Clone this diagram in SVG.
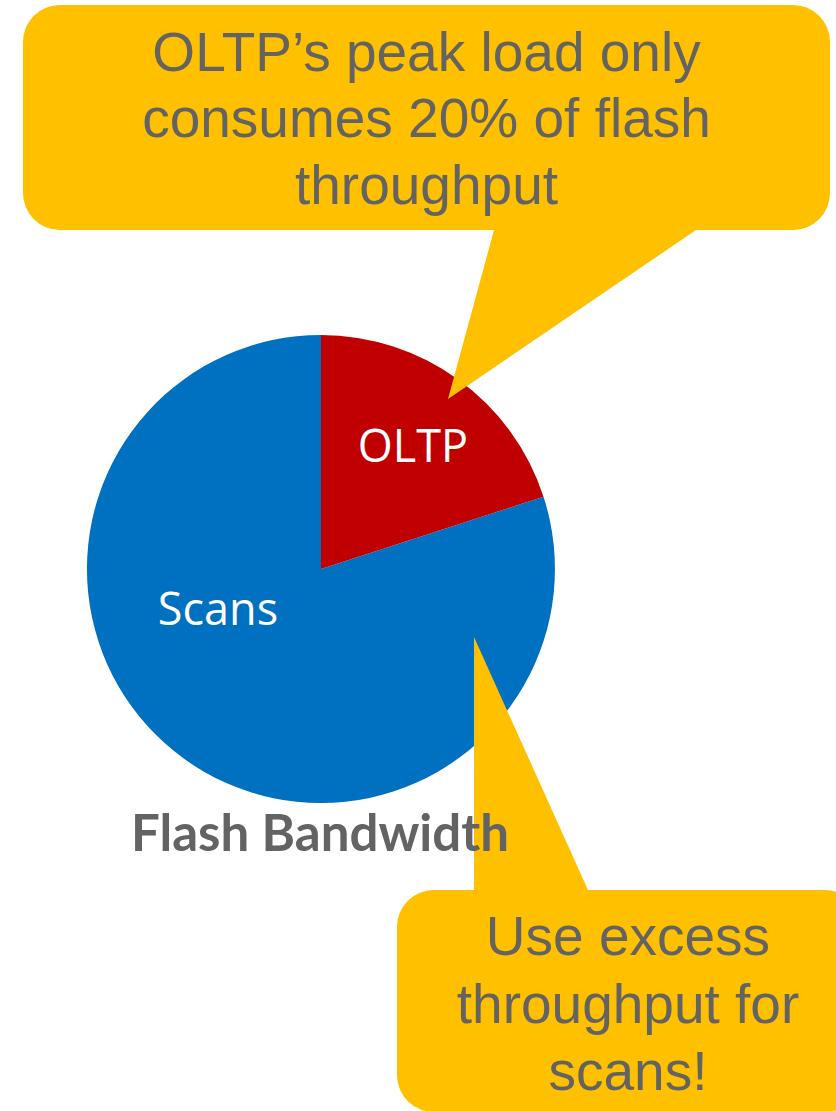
<svg xmlns="http://www.w3.org/2000/svg" width="836" height="1111" viewBox="0 0 836 1111">
  <style>
    .callout { fill: #FFC000; }
    .note { font-family: "Liberation Sans", Arial, sans-serif; font-size: 55px; fill: #636363; text-anchor: middle; }
    .slice-label { font-family: "Open Sans", "Noto Sans", sans-serif; font-size: 45px; fill: #FFFFFF; text-anchor: middle; }
    .title { font-family: Lato, "Open Sans", sans-serif; font-weight: 700; font-size: 52px; fill: #636363; }
  </style>
  <rect width="836" height="1111" fill="#FFFFFF"/>

  <!-- Pie chart: OLTP 20%, Scans 80% -->
  <g id="pie">
    <path id="slice-scans" d="M321,569 L543.5,496.7 A234,234 0 1,1 321,335 Z" fill="#0070C0"/>
    <path id="slice-oltp" d="M321,569 V335 A234,234 0 0,1 543.5,496.7 Z" fill="#C00000"/>
    <text class="slice-label" x="413" y="462">OLTP</text>
    <text class="slice-label" x="218" y="625">Scans</text>
  </g>

  <!-- Callouts -->
  <g id="callout-top">
    <path class="callout" d="M60,5 H793 A37,37 0 0,1 830,42 V193 A37,37 0 0,1 793,230 H696 L448,399 L494,230 H60 A37,37 0 0,1 23,193 V42 A37,37 0 0,1 60,5 Z"/>
    <text class="note" x="426.5" y="71">OLTP’s peak load only</text>
    <text class="note" x="426.5" y="137">consumes 20% of flash</text>
    <text class="note" x="426.5" y="204">throughput</text>
  </g>

  <g id="callout-bottom">
    <path class="callout" d="M434,890 H474 V637 L588,890 H825 A37,37 0 0,1 862,927 V1075 A37,37 0 0,1 825,1112 H434 A37,37 0 0,1 397,1075 V927 A37,37 0 0,1 434,890 Z"/>
    <text class="note" x="628" y="955">Use excess</text>
    <text class="note" x="628" y="1023">throughput for</text>
    <text class="note" x="628" y="1090">scans!</text>
  </g>

  <g id="chart-title">
    <text class="title" x="131" y="851" textLength="378" lengthAdjust="spacingAndGlyphs">Flash Bandwidth</text>
  </g>
</svg>
